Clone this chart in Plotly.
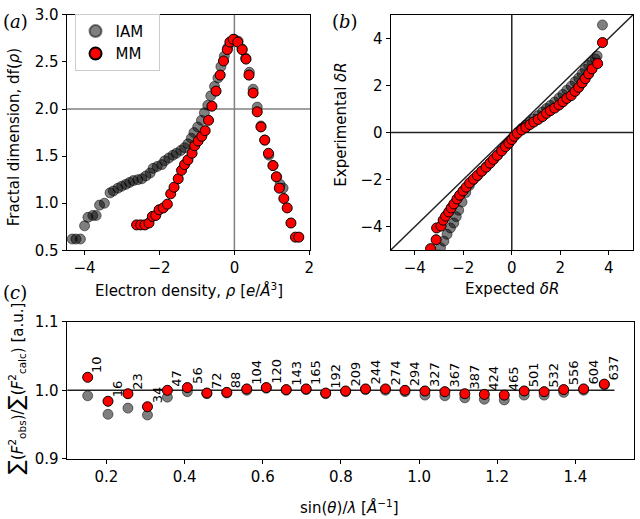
import plotly.graph_objects as go

# ---------------- Panel (a): fractal dimension ----------------
iam_rho = [-4.33, -4.23, -4.11, -4.00, -3.91, -3.78, -3.69, -3.60, -3.47, -3.32, -3.23, -3.11,
           -3.01, -2.90, -2.80, -2.70, -2.58, -2.47, -2.36, -2.25, -2.17, -2.06, -1.94, -1.86,
           -1.75, -1.64, -1.55, -1.43, -1.33, -1.24, -1.15, -1.08, -0.98, -0.88, -0.80, -0.71,
           -0.63, -0.53, -0.44, -0.36, -0.27, -0.18, -0.09, 0.00, 0.10, 0.20, 0.30, 0.40, 0.50,
           0.61, 0.71, 0.81, 0.92, 1.03, 1.13, 1.22, 1.30]
iam_df = [0.62, 0.62, 0.62, 0.76, 0.85, 0.87, 0.87, 0.98, 1.00, 1.11, 1.13, 1.16,
          1.18, 1.20, 1.22, 1.24, 1.25, 1.26, 1.29, 1.32, 1.37, 1.39, 1.41, 1.45,
          1.48, 1.51, 1.53, 1.56, 1.59, 1.63, 1.69, 1.75, 1.81, 1.88, 1.96, 2.04,
          2.14, 2.24, 2.33, 2.45, 2.56, 2.65, 2.71, 2.74, 2.72, 2.64, 2.54, 2.39, 2.21,
          2.02, 1.82, 1.67, 1.51, 1.40, 1.28, 1.20, 1.16]

mm_rho = [-2.61, -2.50, -2.39, -2.28, -2.19, -2.10, -2.01, -1.90, -1.79, -1.70, -1.61, -1.50,
          -1.41, -1.33, -1.24, -1.13, -1.06, -0.97, -0.87, -0.78, -0.69, -0.60, -0.49, -0.38,
          -0.29, -0.19, -0.12, -0.03, 0.09, 0.21, 0.31, 0.39, 0.50, 0.61, 0.71, 0.81, 0.91,
          1.03, 1.12, 1.20, 1.32, 1.41, 1.51, 1.63, 1.72]
mm_df = [0.77, 0.77, 0.77, 0.79, 0.86, 0.87, 0.93, 0.95, 0.99, 1.10, 1.17, 1.26,
         1.35, 1.41, 1.46, 1.53, 1.61, 1.66, 1.71, 1.77, 1.88, 2.03, 2.19, 2.36,
         2.51, 2.63, 2.71, 2.74, 2.71, 2.63, 2.53, 2.36, 2.17, 1.97, 1.81, 1.67, 1.53,
         1.40, 1.28, 1.16, 1.05, 0.95, 0.79, 0.64, 0.64]

# ---------------- Panel (b): normal probability plot ----------------
mm_expected = [-3.35, -3.12, -3.10, -2.92, -2.83, -2.73, -2.60, -2.50, -2.39, -2.26, -2.15, -2.01,
               -1.88, -1.74, -1.58, -1.42, -1.24, -1.06, -0.90, -0.76, -0.60, -0.42, -0.26, -0.12,
               0.00, 0.10, 0.23, 0.41, 0.58, 0.75, 0.91, 1.09, 1.27, 1.43, 1.59, 1.77, 1.95, 2.11,
               2.27, 2.45, 2.61, 2.76, 2.90, 3.03, 3.17, 3.31, 3.54, 3.74]
mm_experimental = [-4.93, -4.55, -4.05, -3.97, -3.72, -3.55, -3.37, -3.20, -3.03, -2.82, -2.66, -2.48,
                   -2.32, -2.14, -1.98, -1.82, -1.64, -1.47, -1.30, -1.14, -0.97, -0.78, -0.60, -0.45,
                   -0.30, -0.16, -0.03, 0.11, 0.22, 0.34, 0.45, 0.56, 0.68, 0.82, 0.93, 1.04, 1.17, 1.31,
                   1.45, 1.57, 1.75, 1.92, 2.11, 2.29, 2.49, 2.70, 2.93, 3.82]
iam_expected = [-3.00, -2.94, -2.80, -2.67, -2.53, -2.39, -2.29, -2.19, -2.05, -1.90, -1.75, -1.60,
                -1.42, -1.24, -1.06, -0.90, -0.74, -0.58, -0.42, -0.26, -0.12, 0.00, 0.12, 0.26,
                0.41, 0.58, 0.75, 0.91, 1.09, 1.27, 1.43, 1.59, 1.77, 1.95, 2.11, 2.27, 2.45, 2.61,
                2.76, 2.90, 3.03, 3.17, 3.31, 3.45, 3.52, 3.74]
iam_experimental = [-5.20, -4.89, -4.61, -4.32, -4.05, -3.84, -3.57, -3.30, -2.95, -2.55, -2.25, -2.02,
                    -1.84, -1.64, -1.47, -1.30, -1.12, -0.95, -0.76, -0.58, -0.43, -0.28, -0.12, 0.03,
                    0.18, 0.32, 0.45, 0.58, 0.72, 0.88, 1.02, 1.15, 1.30, 1.47, 1.62, 1.80, 1.97, 2.16,
                    2.32, 2.50, 2.68, 2.85, 3.00, 3.12, 3.25, 4.57]

# ---------------- Panel (c): scale factor vs resolution ----------------
sin_theta_lambda = [0.152, 0.204, 0.255, 0.305, 0.356, 0.407, 0.457, 0.508, 0.559, 0.609, 0.660,
                    0.711, 0.761, 0.812, 0.863, 0.914, 0.964, 1.015, 1.066, 1.117, 1.167, 1.218,
                    1.269, 1.320, 1.370, 1.421, 1.474]
ratio_mm = [1.019, 0.984, 0.995, 0.976, 1.000, 1.004, 0.996, 0.997, 1.002, 1.004, 1.001,
            1.002, 0.996, 0.999, 1.002, 1.002, 1.000, 0.999, 0.998, 0.995, 0.994, 0.993,
            0.999, 0.998, 1.001, 1.002, 1.009]
ratio_iam = [0.992, 0.965, 0.974, 0.964, 0.990, 0.998, 0.995, 0.996, 1.000, 1.003, 1.000,
             1.001, 0.995, 0.998, 1.001, 1.000, 0.998, 0.993, 0.992, 0.989, 0.987, 0.986,
             0.993, 0.993, 0.997, 1.000, 1.008]
shell_counts = ["10", "16", "23", "34", "47", "56", "72", "88", "104", "120", "143", "165",
                "192", "209", "244", "274", "294", "327", "367", "387", "424", "465", "501",
                "532", "556", "604", "637"]

W, H = 640, 519
FONT = "DejaVu Sans"
GRAY_FILL = "rgba(0,0,0,0.5)"
GRAY_EDGE = "rgba(0,0,0,0.5)"
RED = "#ff0000"
NB = "\u00a0"


def dom_x(a, b):
    return [a / W, b / W]


def dom_y(top, bottom):
    return [1 - bottom / H, 1 - top / H]


iam_marker = dict(size=10, color=GRAY_FILL, line=dict(color=GRAY_EDGE, width=1))
mm_marker = dict(size=10, color=RED, line=dict(color="black", width=1))

fig = go.Figure()

# panel (a)
fig.add_trace(go.Scatter(x=iam_rho, y=iam_df, mode="markers", marker=iam_marker,
                         name="IAM" + NB * 2, xaxis="x", yaxis="y"))
fig.add_trace(go.Scatter(x=mm_rho, y=mm_df, mode="markers", marker=mm_marker,
                         name="MM" + NB * 2, xaxis="x", yaxis="y"))
# panel (b)
fig.add_trace(go.Scatter(x=iam_expected, y=iam_experimental, mode="markers", marker=iam_marker,
                         showlegend=False, xaxis="x2", yaxis="y2"))
fig.add_trace(go.Scatter(x=mm_expected, y=mm_experimental, mode="markers", marker=mm_marker,
                         showlegend=False, xaxis="x2", yaxis="y2"))
# panel (c)
fig.add_trace(go.Scatter(x=sin_theta_lambda, y=ratio_iam, mode="markers", marker=iam_marker,
                         showlegend=False, xaxis="x3", yaxis="y3"))
fig.add_trace(go.Scatter(x=sin_theta_lambda, y=ratio_mm, mode="markers", marker=mm_marker,
                         showlegend=False, xaxis="x3", yaxis="y3"))

axis_common = dict(showline=True, linecolor="black", linewidth=1, mirror=True,
                   ticks="outside", ticklen=4, tickwidth=1, tickcolor="black",
                   showgrid=False, zeroline=False,
                   tickfont=dict(family=FONT, size=15, color="black"))

fig.update_layout(
    width=W, height=H, margin=dict(l=0, r=0, t=0, b=0),
    paper_bgcolor="white", plot_bgcolor="white",
    font=dict(family=FONT, size=15, color="black"),
    xaxis=dict(domain=dom_x(67, 312), range=[-4.48, 2.02], tickvals=[-4, -2, 0, 2],
               anchor="y", **axis_common),
    yaxis=dict(domain=dom_y(6, 250), range=[0.5, 3.0], tickvals=[0.5, 1.0, 1.5, 2.0, 2.5, 3.0],
               tickformat=".1f", anchor="x", **axis_common),
    xaxis2=dict(domain=dom_x(393, 637), range=[-5, 5], tickvals=[-4, -2, 0, 2, 4],
                anchor="y2", **axis_common),
    yaxis2=dict(domain=dom_y(6, 250), range=[-5, 5], tickvals=[-4, -2, 0, 2, 4],
                anchor="x2", **axis_common),
    xaxis3=dict(domain=dom_x(67, 638), range=[0.098, 1.55],
                tickvals=[0.2, 0.4, 0.6, 0.8, 1.0, 1.2, 1.4], tickformat=".1f",
                anchor="y3", **axis_common),
    yaxis3=dict(domain=dom_y(324, 466), range=[0.9, 1.1], tickvals=[0.9, 1.0, 1.1],
                tickformat=".1f", anchor="x3", **axis_common),
    legend=dict(x=75 / W, y=1 - 5 / H, xanchor="left", yanchor="top",
                bgcolor="rgba(255,255,255,0.8)", bordercolor="#cccccc", borderwidth=1,
                font=dict(family=FONT, size=15), itemsizing="constant"),
    showlegend=True,
)

# reference lines
shapes = [
    dict(type="line", xref="x", yref="y domain", x0=0, x1=0, y0=0, y1=1,
         line=dict(color="gray", width=1.5), layer="below"),
    dict(type="line", xref="x domain", yref="y", x0=0, x1=1, y0=2, y1=2,
         line=dict(color="gray", width=1.5), layer="below"),
    dict(type="line", xref="x2", yref="y2 domain", x0=0, x1=0, y0=0, y1=1,
         line=dict(color="#222222", width=1.5), layer="below"),
    dict(type="line", xref="x2 domain", yref="y2", x0=0, x1=1, y0=0, y1=0,
         line=dict(color="#222222", width=1.5), layer="below"),
    dict(type="line", xref="x2", yref="y2", x0=-5, x1=5, y0=-5, y1=5,
         line=dict(color="#222222", width=1.5), layer="below"),
    dict(type="line", xref="x3", yref="y3", x0=0.1, x1=1.5, y0=1.0, y1=1.0,
         line=dict(color="#222222", width=1.5), layer="below"),
]
fig.update_layout(shapes=shapes)

ann = []
# shell count labels
for xv, yv, lab in zip(sin_theta_lambda, ratio_mm, shell_counts):
    ann.append(dict(x=xv, y=yv, xref="x3", yref="y3", text=lab, showarrow=False,
                    textangle=-90, xanchor="left", yanchor="bottom", xshift=0, yshift=2,
                    font=dict(family=FONT, size=13, color="black")))


def paper_text(xp, yp, text, angle=0, size=15, family=FONT, xa="center", ya="middle"):
    return dict(x=xp / W, y=1 - yp / H, xref="paper", yref="paper", showarrow=False,
                text=text, textangle=angle, xanchor=xa, yanchor=ya,
                font=dict(family=family, size=size, color="black"))


SUM = '<span style="font-size:21px">∑</span>'

# axis titles
ann += [
    paper_text(190, 291, "Electron density, <i>ρ</i> [<i>e</i>/<i>Å</i><sup>3</sup>]"),
    paper_text(14, 133, "Fractal dimension, df(<i>ρ</i>)", angle=-90),
    paper_text(515, 290, "Expected <i>δR</i>"),
    paper_text(343, 120, "Experimental <i>δR</i>", angle=-90),
    paper_text(352, 516, "sin(<i>θ</i>)/<i>λ</i> [<i>Å</i><sup>−1</sup>]"),
    paper_text(16, 393,
               SUM + "(<i>F</i><sup>2</sup><sub>obs</sub>)/" + SUM +
               "(<i>F</i><sup>2</sup><sub>calc</sub>) [a.u.]",
               angle=-90),
    # panel letters
    paper_text(1, 0, "(<i>a</i>)", size=18, family="DejaVu Serif", xa="left", ya="top"),
    paper_text(332, 0, "(<i>b</i>)", size=18, family="DejaVu Serif", xa="left", ya="top"),
    paper_text(1, 281, "(<i>c</i>)", size=18, family="DejaVu Serif", xa="left", ya="top"),
]
fig.update_layout(annotations=ann)

fig.write_html("out.html")
